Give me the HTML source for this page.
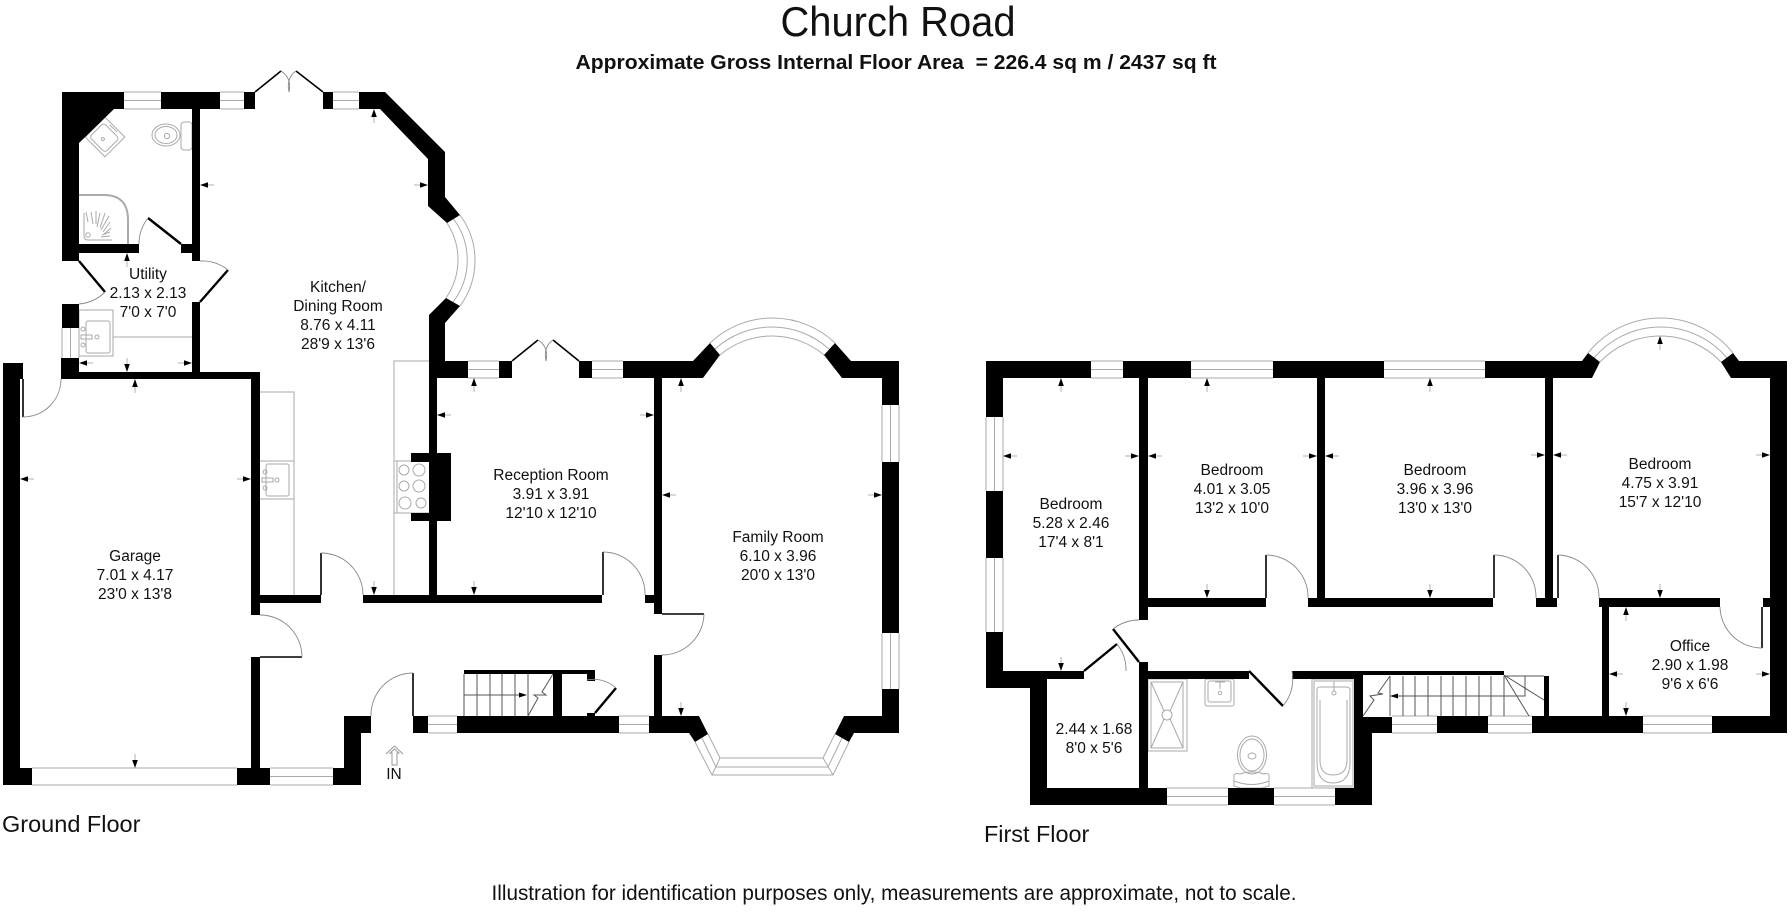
<!DOCTYPE html>
<html lang="en"><head><meta charset="utf-8"><title>Church Road</title>
<style>
html,body{margin:0;padding:0;background:#fff}
svg{display:block}
text{font-family:"Liberation Sans",sans-serif;fill:#111}
.r text,.r{font-size:15.5px;text-anchor:middle}
.w{fill:none;stroke:#aaa;stroke-width:1}
.f{fill:none;stroke:#aaa;stroke-width:1}
.d{fill:none;stroke:#888;stroke-width:.9}
.l{fill:none;stroke:#000;stroke-width:1.6}
.t{fill:none;stroke:#000;stroke-width:2.4}
.s{fill:none;stroke:#555;stroke-width:1}
</style></head><body>
<svg width="1792" height="912" viewBox="0 0 1792 912" xmlns="http://www.w3.org/2000/svg">
<rect width="1792" height="912" fill="#fff"/>
<defs><g id="a"><path d="M0 0L2.800 8H-2.800Z" fill="#000"/><path d="M0 8V14" stroke="#aaa" stroke-width=".9"/></g></defs>

<text x="898" y="36" font-size="42" text-anchor="middle" textLength="235" lengthAdjust="spacingAndGlyphs">Church Road</text>
<text x="896" y="69" font-size="20.500" font-weight="700" text-anchor="middle" textLength="641" lengthAdjust="spacingAndGlyphs" xml:space="preserve">Approximate Gross Internal Floor Area  = 226.4 sq m / 2437 sq ft</text>
<text x="894" y="900" font-size="21.500" text-anchor="middle" textLength="805" lengthAdjust="spacingAndGlyphs">Illustration for identification purposes only, measurements are approximate, not to scale.</text>
<text x="2" y="832" font-size="23.500">Ground Floor</text>
<text x="984" y="842" font-size="23.400">First Floor</text>

<!-- fixtures -->
<g class="f">
<path d="M260 392H294V595M260 461H294M260 499H294"/>
<rect x="266" y="464" width="23" height="32" rx="2"/>
<path d="M429 361H394V595M394 461H429M394 513H429M397 461V513"/>
<circle cx="404" cy="470" r="5"/><circle cx="419" cy="470" r="6"/><circle cx="404" cy="486" r="5"/><circle cx="419" cy="486" r="6"/><circle cx="405" cy="503" r="6"/><circle cx="421" cy="503" r="5"/>
<rect x="79" y="310" width="34" height="46"/><rect x="86" y="321" width="24" height="32" rx="2"/>
<path d="M113 337H192"/>
<circle cx="83" cy="329" r="2"/><circle cx="83" cy="345" r="2"/><circle cx="97" cy="337" r="2"/><rect x="81" y="335" width="11" height="4"/>
<circle cx="265" cy="472" r="2"/><circle cx="265" cy="488" r="2"/><circle cx="277" cy="480" r="2"/><rect x="262" y="478" width="11" height="4"/>
<g transform="translate(105 137) rotate(45)"><rect x="-14" y="-14" width="28" height="28"/><rect x="-11" y="-9" width="22" height="20" rx="3"/><circle cx="0" cy="3" r="1.5"/><path d="M-5 -12H5"/></g>
<ellipse cx="166" cy="135" rx="14" ry="11"/><ellipse cx="166" cy="135" rx="11" ry="8.500"/><circle cx="167" cy="136" r="2.600"/>
<rect x="181" y="122" width="11" height="28" rx="3"/>
<path d="M79 195H104Q128 195 128 220V244" stroke-width="2"/>
<path d="M84 213V236Q84 240 88 240H112"/>
<circle cx="88" cy="235" r="2.200"/>
<path d="M86 212L88 222M91 212L93 224M96 211L96 224M100 213L97 227M105 213L100 228M109 216L101 230M110 222L103 232M111 228L104 234M110 232L102 235M110 236L101 237"/>
<!-- first floor fixtures -->
<rect x="1148" y="679" width="39" height="72"/><rect x="1151" y="682" width="32" height="66"/>
<circle cx="1167" cy="715" r="5"/><path d="M1151 682L1164 711M1183 682L1170 711M1151 748L1164 719M1183 748L1170 719"/>
<rect x="1205" y="679" width="29" height="27" rx="2"/><rect x="1208" y="681" width="23" height="21" rx="2"/><circle cx="1220" cy="693" r="1.700"/><path d="M1215 682h10M1220 682v7"/>
<ellipse cx="1252" cy="755" rx="14.500" ry="19"/><ellipse cx="1252" cy="755" rx="12" ry="16"/><ellipse cx="1252" cy="756" rx="4" ry="3"/>
<path d="M1234 778Q1233 772 1240 774Q1252 770 1264 774Q1270 772 1269 778V786L1262 788H1240L1234 786ZM1234 781Q1252 788 1269 781"/>
<rect x="1312" y="679" width="43" height="109"/><rect x="1314" y="681" width="39" height="105"/>
<path d="M1317 690Q1317 687 1320 687H1346Q1350 687 1350 690V762Q1350 783 1333 783Q1317 783 1317 762Z"/>
<path d="M1320 700V760Q1320 775 1333 775Q1347 775 1347 760V700"/><circle cx="1334" cy="693" r="2"/><path d="M1329 681h10M1334 681v10"/>
</g>

<!-- windows -->
<g class="w">
<path d="M124 92H161M124 100.500H161M124 109H161"/>
<path d="M220 92H244M220 100.500H244M220 109H244"/>
<path d="M333 92H359M333 100.500H359M333 109H359"/>
<path d="M62 328V358M70.500 328V358M79 328V358"/>
<path d="M468 361H499M468 369.500H499M468 378H499"/>
<path d="M592 361H623M592 369.500H623M592 378H623"/>
<path d="M882 405V462M890.500 405V462M899 405V462"/>
<path d="M882 633V689M890.500 633V689M899 633V689"/>
<path d="M428 716H457M428 724.500H457M428 733H457"/>
<path d="M619 716H649M619 724.500H649M619 733H649"/>
<path d="M270 768H333M270 776.500H333M270 785H333"/>
<path d="M32 768H237M32 785H237"/>
<path d="M1091 361H1123M1091 369.500H1123M1091 378H1123"/>
<path d="M1191 361H1273M1191 369.500H1273M1191 378H1273"/>
<path d="M1384 361H1485M1384 369.500H1485M1384 378H1485"/>
<path d="M986 417V491M994.500 417V491M1003 417V491"/>
<path d="M986 558V632M994.500 558V632M1003 558V632"/>
<path d="M1167 788H1228M1167 796.500H1228M1167 805H1228"/>
<path d="M1274 788H1335M1274 796.500H1335M1274 805H1335"/>
<path d="M1392 716H1437M1392 724.500H1437M1392 733H1437"/>
<path d="M1488 716H1532M1488 724.500H1532M1488 733H1532"/>
<path d="M1643 716H1712M1643 724.500H1712M1643 733H1712"/>
<path d="M460 215A76.500 76.500 0 0 1 460 306M453.500 219A68.500 68.500 0 0 1 453 302M447 223A67 67 0 0 1 446 298"/>
<path d="M710 343A90.600 90.600 0 0 1 835 343M715 349A85 85 0 0 1 829 349M720 355A80.700 80.700 0 0 1 824 355"/>
<path d="M1588 353A92.600 92.600 0 0 1 1733 353M1594 358A86.800 86.800 0 0 1 1727 358M1600 362A83.400 83.400 0 0 1 1721 362"/>
<path d="M708 734L720 758H823L835 734M702 738L716 767H828L842 738M695 742L712 775H833L849 742M720 758L712 775M823 758L833 775"/>
</g>

<!-- walls -->
<g fill="#000">
<path d="M62 92H124V109H114L79 143V244H139V253H79V261H62Z"/>
<path d="M161 92H220V109H200V261H192V253H181V244H192V109H161Z"/>
<rect x="244" y="92" width="11" height="17"/><rect x="323" y="92" width="10" height="17"/>
<path d="M359 92H385L445 152V197L460 215L447 223L428 206V159L380 109H359Z"/>
<path d="M460 306L445 323V361H468V378H437V453H451V521H437V595H602V603H363V595H429V521H411V513H429V462H411V453H429V315L446 298Z"/>
<path d="M61 358H79V372H192V302H200V372H260V595H321V603H260V615H251V379H61Z"/>
<path d="M3 363H23V379H20V768H32V785H3Z"/>
<path d="M251 657H260V768H270V785H237V768H251Z"/>
<path d="M333 768H344V716H371V733H361V785H333Z"/>
<rect x="62" y="304" width="17" height="24"/>
<rect x="413" y="716" width="15" height="17"/>
<rect x="457" y="716" width="162" height="17"/>
<rect x="464" y="670" width="131" height="4"/><rect x="553" y="670" width="9" height="46"/><rect x="587" y="670" width="8" height="11"/><rect x="587" y="713" width="8" height="3"/>
<path d="M649 716H654V655H662V716H699L708 734L695 742L689 733H649Z"/>
<path d="M623 361H693L710 343L720 355L703 378H662V614H654V603H645V595H654V378H623Z"/>
<path d="M835 343L851 361H899V405H882V378H842L824 355Z"/>
<rect x="882" y="462" width="17" height="171"/>
<path d="M882 689H899V733H854L849 742L835 734L844 716H882Z"/>
<rect x="499" y="361" width="13" height="17"/><rect x="579" y="361" width="13" height="17"/>
<!-- first floor -->
<path d="M986 361H1091V378H1003V417H986Z"/>
<rect x="986" y="491" width="17" height="67"/>
<path d="M986 632H1003V671H1084V679H1047V788H1139V662H1148V671H1249V679H1148V788H1167V805H1030V688H986Z"/>
<path d="M1123 361H1191V378H1148V620H1139V378H1123Z"/>
<path d="M1273 361H1384V378H1325V598H1493V607H1308V598H1317V378H1273Z"/>
<rect x="1148" y="598" width="118" height="9"/>
<path d="M1485 361H1582L1588 353L1600 362L1592 378H1553V598H1557V607H1536V598H1545V378H1485Z"/>
<path d="M1733 353L1739 361H1787V733H1712V716H1770V607H1763V598H1770V378H1731L1721 362Z"/>
<rect x="1599" y="598" width="121" height="9"/><rect x="1602" y="607" width="7" height="109"/><rect x="1532" y="716" width="111" height="17"/><rect x="1544" y="676" width="5" height="40"/>
<path d="M1292 671H1504V675H1363V717H1392V733H1372V805H1335V788H1354V679H1292Z"/>
<rect x="1437" y="716" width="51" height="17"/>
<rect x="1228" y="788" width="46" height="17"/>
</g>

<!-- stairs -->
<g class="s">
<path d="M464 674V716M477 674V716M490 674V716M502 674V716M515 674V716M528 674V716M464 695H520"/>
<path d="M553 674L542 692L546 695L534 695L538 698L528 716"/>
<path d="M1390 676V716M1403 676V716M1415 676V716M1428 676V716M1441 676V716M1453 676V716M1466 676V716M1479 676V716M1491 676V716M1504 676V716"/>
<path d="M1398 696H1525V676M1504 676H1544M1504 675L1529 716M1504 675L1544 700"/>
<path d="M1390 676L1378 693L1383 694L1370 696L1374 700L1363 716"/>
</g>
<path d="M527 695L519 692.500V697.500Z" fill="#000"/>
<path d="M1390 696L1398 693.500V698.500Z" fill="#000"/>

<!-- doors -->
<g class="l">
<path d="M23 379V417M321 553V595M260 657H302M603 552V595M662 614H704M413 673V716M1266 555V598M1494 555V598M1558 555V598M1762 607V648"/>
</g>
<g class="t">
<path d="M79 261L105 292M148 218L181 244M200 302L228 270M595 713L616 688M1113 629L1139 662M1084 671L1117 644M1249 671L1283 706"/>
<path d="M255 92L281 71M323 92L296 71M512 361L538 340M579 361L553 340" stroke-width="1.600"/>
</g>
<g class="d">
<path d="M23 417A38 38 0 0 0 61 379M321 553A42 42 0 0 1 363 595M260 615A42 42 0 0 1 302 657M603 552A42 42 0 0 1 645 595M704 614A42 42 0 0 1 662 655M413 673A42 42 0 0 0 371 716"/>
<path d="M148 218A42 42 0 0 0 139 244M105 292A42 42 0 0 1 79 304M200 261A42 42 0 0 1 228 270M587 680A33 33 0 0 1 616 688"/>
<path d="M1113 629A42 42 0 0 1 1139 620M1117 644A42 42 0 0 1 1126 671M1283 706A42 42 0 0 0 1292 671M1266 555A42 42 0 0 1 1308 598M1494 555A42 42 0 0 1 1536 598M1558 555A42 42 0 0 1 1599 598M1762 648A42 42 0 0 1 1720 607"/>
<path d="M281 71Q292 78 289 92Q286 78 296 71M538 340Q549 347 546 361Q543 347 553 340"/>
</g>

<!-- in arrow -->
<path d="M386 754L394.500 746L403 754M392 753H390L394.500 749L399 753H397V765H392Z" fill="none" stroke="#999" stroke-width="1"/>
<text x="394" y="779" font-size="15.500" text-anchor="middle">IN</text>

<!-- dimension arrows -->
<g>
<use href="#a" transform="translate(374 109)"/>
<use href="#a" transform="translate(200 185) rotate(-90)"/>
<use href="#a" transform="translate(428 185) rotate(90)"/>
<use href="#a" transform="translate(374 595) rotate(180)"/>
<use href="#a" transform="translate(127 253)"/>
<use href="#a" transform="translate(127 372) rotate(180)"/>
<use href="#a" transform="translate(79 363) rotate(-90)"/>
<use href="#a" transform="translate(192 363) rotate(90)"/>
<use href="#a" transform="translate(135 379)"/>
<use href="#a" transform="translate(20 479) rotate(-90)"/>
<use href="#a" transform="translate(251 479) rotate(90)"/>
<use href="#a" transform="translate(135 768) rotate(180)"/>
<use href="#a" transform="translate(474 378)"/>
<use href="#a" transform="translate(437 415) rotate(-90)"/>
<use href="#a" transform="translate(654 415) rotate(90)"/>
<use href="#a" transform="translate(474 595) rotate(180)"/>
<use href="#a" transform="translate(681 378)"/>
<use href="#a" transform="translate(662 495) rotate(-90)"/>
<use href="#a" transform="translate(882 495) rotate(90)"/>
<use href="#a" transform="translate(681 716) rotate(180)"/>
<use href="#a" transform="translate(1061 378)"/>
<use href="#a" transform="translate(1003 456) rotate(-90)"/>
<use href="#a" transform="translate(1139 456) rotate(90)"/>
<use href="#a" transform="translate(1061 671) rotate(180)"/>
<use href="#a" transform="translate(1207 378)"/>
<use href="#a" transform="translate(1148 456) rotate(-90)"/>
<use href="#a" transform="translate(1317 456) rotate(90)"/>
<use href="#a" transform="translate(1207 598) rotate(180)"/>
<use href="#a" transform="translate(1430 378)"/>
<use href="#a" transform="translate(1325 456) rotate(-90)"/>
<use href="#a" transform="translate(1545 455) rotate(90)"/>
<use href="#a" transform="translate(1430 598) rotate(180)"/>
<use href="#a" transform="translate(1660 336)"/>
<use href="#a" transform="translate(1553 455) rotate(-90)"/>
<use href="#a" transform="translate(1770 455) rotate(90)"/>
<use href="#a" transform="translate(1660 598) rotate(180)"/>
<use href="#a" transform="translate(1626 607)"/>
<use href="#a" transform="translate(1609 674) rotate(-90)"/>
<use href="#a" transform="translate(1770 674) rotate(90)"/>
<use href="#a" transform="translate(1626 716) rotate(180)"/>
</g>

<!-- labels -->
<g class="r">
<text x="148" y="279">Utility</text><text x="148" y="298">2.13 x 2.13</text><text x="148" y="317">7'0 x 7'0</text>
<text x="338" y="292">Kitchen/</text><text x="338" y="311">Dining Room</text><text x="338" y="330">8.76 x 4.11</text><text x="338" y="349">28'9 x 13'6</text>
<text x="135" y="561">Garage</text><text x="135" y="580">7.01 x 4.17</text><text x="135" y="599">23'0 x 13'8</text>
<text x="551" y="480">Reception Room</text><text x="551" y="499">3.91 x 3.91</text><text x="551" y="518">12'10 x 12'10</text>
<text x="778" y="542">Family Room</text><text x="778" y="561">6.10 x 3.96</text><text x="778" y="580">20'0 x 13'0</text>
<text x="1071" y="509">Bedroom</text><text x="1071" y="528">5.28 x 2.46</text><text x="1071" y="547">17'4 x 8'1</text>
<text x="1232" y="475">Bedroom</text><text x="1232" y="494">4.01 x 3.05</text><text x="1232" y="513">13'2 x 10'0</text>
<text x="1435" y="475">Bedroom</text><text x="1435" y="494">3.96 x 3.96</text><text x="1435" y="513">13'0 x 13'0</text>
<text x="1660" y="469">Bedroom</text><text x="1660" y="488">4.75 x 3.91</text><text x="1660" y="507">15'7 x 12'10</text>
<text x="1690" y="651">Office</text><text x="1690" y="670">2.90 x 1.98</text><text x="1690" y="689">9'6 x 6'6</text>
<text x="1094" y="734">2.44 x 1.68</text><text x="1094" y="753">8'0 x 5'6</text>
</g>
</svg>
</body></html>
